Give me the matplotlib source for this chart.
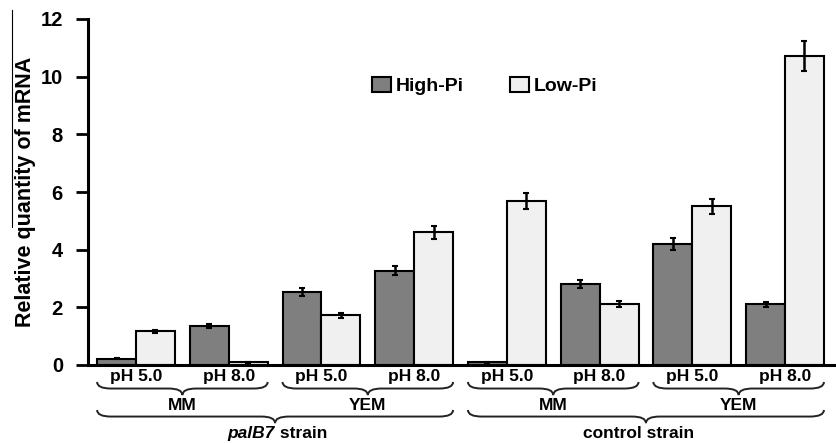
import matplotlib
matplotlib.use('Agg')
import matplotlib.pyplot as plt
from matplotlib.path import Path
from matplotlib.patches import PathPatch
from matplotlib.lines import Line2D
from matplotlib.transforms import blended_transform_factory
import numpy as np

plt.rcParams['font.family'] = ['Liberation Sans', 'DejaVu Sans']
plt.rcParams['font.weight'] = 'bold'
plt.rcParams['axes.labelweight'] = 'bold'

# Datos
ph_labels = ['pH 5.0', 'pH 8.0'] * 4
medium_labels = ['MM', 'YEM', 'MM', 'YEM']
strain_labels = ['palB7', 'control']
high_pi = [0.22, 1.35, 2.52, 3.27, 0.10, 2.82, 4.20, 2.10]
high_err = [0.02, 0.06, 0.14, 0.16, 0.02, 0.14, 0.20, 0.10]
low_pi = [1.17, 0.10, 1.72, 4.60, 5.68, 2.12, 5.50, 10.72]
low_err = [0.05, 0.02, 0.10, 0.22, 0.28, 0.10, 0.25, 0.52]

HIGH_COLOR = '#7f7f7f'
LOW_COLOR = '#f0f0f0'

fig = plt.figure(figsize=(8.36, 4.43), dpi=100)
ax = fig.add_axes([88/836, 78/443, 1 - 88/836, 346/443])

x = np.arange(len(high_pi))
w = 0.42
ax.bar(x - w/2, high_pi, w, color=HIGH_COLOR, edgecolor='black', linewidth=1.5,
       label='High-Pi', zorder=2)
ax.bar(x + w/2, low_pi, w, color=LOW_COLOR, edgecolor='black', linewidth=1.5,
       label='Low-Pi', zorder=2)
ax.errorbar(x - w/2, high_pi, yerr=high_err, fmt='none', ecolor='black',
            elinewidth=1.8, capsize=2.5, capthick=1.5, zorder=3)
ax.errorbar(x + w/2, low_pi, yerr=low_err, fmt='none', ecolor='black',
            elinewidth=1.8, capsize=2.5, capthick=1.5, zorder=3)

ax.set_xlim(-0.518, 7.55)
ax.set_ylim(0, 12)
ax.set_yticks(range(0, 13, 2))
ax.tick_params(axis='y', labelsize=14.5, length=9, width=2, pad=9)
ax.set_xticks(x)
ax.set_xticklabels(ph_labels, fontsize=12.5)
ax.tick_params(axis='x', length=0, pad=3)
for s in ['top', 'right']:
    ax.spines[s].set_visible(False)
ax.spines['left'].set_linewidth(2.2)
ax.spines['bottom'].set_linewidth(2.2)

ax.set_ylabel('Relative quantity of mRNA', fontsize=15.5)
ax.yaxis.set_label_coords(-0.069, 0.5)

ax.legend(ncol=2, frameon=False, fontsize=14, loc='center left',
          bbox_to_anchor=(372/836, 1 - 86/443), bbox_transform=fig.transFigure,
          borderpad=0, borderaxespad=0, handlelength=1.0, handleheight=0.8,
          handletextpad=0.2, columnspacing=2.4)

trans = blended_transform_factory(ax.transData, ax.transAxes)


def brace(x0, x1, ytop, ybot):
    xm = (x0 + x1) / 2
    ym = (ytop + ybot) / 2
    d = 0.15
    verts = [(x0, ytop), (x0, ym), (x0 + d, ym), (xm - d, ym), (xm, ym), (xm, ybot),
             (xm, ym), (xm + d, ym), (x1 - d, ym), (x1, ym), (x1, ytop)]
    codes = [Path.MOVETO, Path.CURVE3, Path.CURVE3, Path.LINETO, Path.CURVE3, Path.CURVE3,
             Path.CURVE3, Path.CURVE3, Path.LINETO, Path.CURVE3, Path.CURVE3]
    ax.add_patch(PathPatch(Path(verts, codes), fill=False, lw=1.4, edgecolor='#222222',
                           transform=trans, clip_on=False))


# llaves de medio
for i, med in enumerate(medium_labels):
    a, b = 2*i - w, 2*i + 1 + w
    brace(a, b, -0.049, -0.087)
    ax.text((a + b)/2, -0.118, med, transform=trans, ha='center', va='center', fontsize=12.5)

# llaves de cepa
for j in range(2):
    a, b = 4*j - w, 4*j + 3 + w
    brace(a, b, -0.130, -0.168)
xs0 = (0 - w + 3 + w) / 2
ax.text(xs0, -0.198, strain_labels[0], transform=trans, ha='right', va='center',
        fontsize=12.5, style='italic')
ax.text(xs0, -0.198, ' strain', transform=trans, ha='left', va='center', fontsize=12.5)
ax.text((4 - w + 7 + w)/2 - 0.08, -0.198, strain_labels[1] + ' strain', transform=trans,
        ha='center', va='center', fontsize=12.5)

# linea del escaneo original
fig.add_artist(Line2D([12/836, 12/836], [1 - 227/443, 1 - 10/443],
                      transform=fig.transFigure, color='black', lw=0.8))

fig.savefig('out.png', dpi=100)
